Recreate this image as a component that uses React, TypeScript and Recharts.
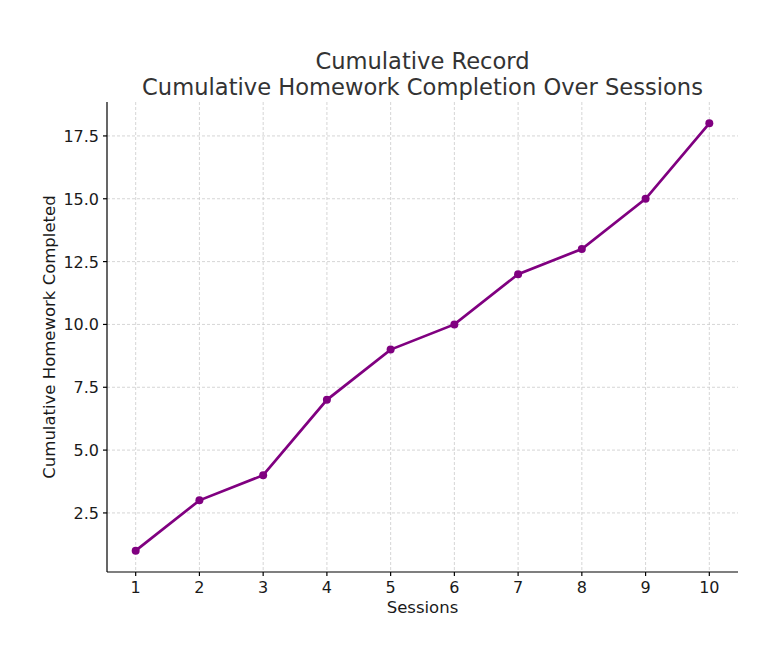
import React from 'react';
import { LineChart, Line, XAxis, YAxis, CartesianGrid } from 'recharts';

const sessions = [1, 2, 3, 4, 5, 6, 7, 8, 9, 10];
const cumulativeHomework = [1, 3, 4, 7, 9, 10, 12, 13, 15, 18];
const xTicks = [1, 2, 3, 4, 5, 6, 7, 8, 9, 10];
const yTicks = [2.5, 5, 7.5, 10, 12.5, 15, 17.5];

const data = sessions.map((s, i) => ({ session: s, value: cumulativeHomework[i] }));

const font = 'DejaVu Sans, sans-serif';

// custom tick text so the font size actually sticks
const XTick = (props: any) => {
    const { x, y, payload } = props;
    return (
        <text x={x} y={y + 14} textAnchor="middle" fontSize={16} fontFamily={font} fill="#1a1a1a">
            {payload.value}
        </text>
    );
};

const YTick = (props: any) => {
    const { x, y, payload } = props;
    return (
        <text x={x - 1} y={y + 6} textAnchor="end" fontSize={16} fontFamily={font} fill="#1a1a1a">
            {Number(payload.value).toFixed(1)}
        </text>
    );
};

const App: React.FC = () => {
    return (
        <div style={{ position: 'absolute', left: 0, top: 0, width: 780, height: 670, background: '#fff', fontFamily: font }}>
            {/* Title */}
            <div
                style={{
                    position: 'absolute',
                    left: 107,
                    width: 631,
                    top: 48,
                    textAlign: 'center',
                    fontSize: 22.6,
                    lineHeight: '26px',
                    color: '#333',
                }}
            >
                Cumulative Record
                <br />
                Cumulative Homework Completion Over Sessions
            </div>
            <LineChart
                width={780}
                height={670}
                data={data}
                margin={{ top: 102, right: 42, bottom: 68, left: 47 }}
            >
                <CartesianGrid stroke="#cccccc" strokeDasharray="3 2" strokeWidth={0.8} syncWithTicks />
                <XAxis
                    dataKey="session"
                    type="number"
                    domain={[0.55, 10.45]}
                    ticks={xTicks}
                    height={30}
                    stroke="#000"
                    strokeWidth={1.2}
                    tickSize={4}
                    tick={<XTick />}
                    tickMargin={3}
                    label={{ value: 'Sessions', position: 'insideBottom', offset: -11, fill: '#1a1a1a', fontSize: 16.5, fontFamily: font }}
                />
                <YAxis
                    type="number"
                    domain={[0.15, 18.85]}
                    ticks={yTicks}
                    width={60}
                    stroke="#000"
                    strokeWidth={1.2}
                    tickSize={4}
                    tick={<YTick />}
                    tickMargin={3}
                    label={{
                        value: 'Cumulative Homework Completed',
                        angle: -90,
                        position: 'insideLeft',
                        offset: 2,
                        style: { textAnchor: 'middle' },
                        fill: '#1a1a1a',
                        fontSize: 16.5,
                        fontFamily: font,
                    }}
                />
                <Line
                    type="linear"
                    dataKey="value"
                    stroke="#800080"
                    strokeWidth={2.7}
                    dot={{ r: 4, fill: '#800080', stroke: '#800080', strokeWidth: 0 }}
                    isAnimationActive={false}
                />
            </LineChart>
        </div>
    );
};

export default App;
